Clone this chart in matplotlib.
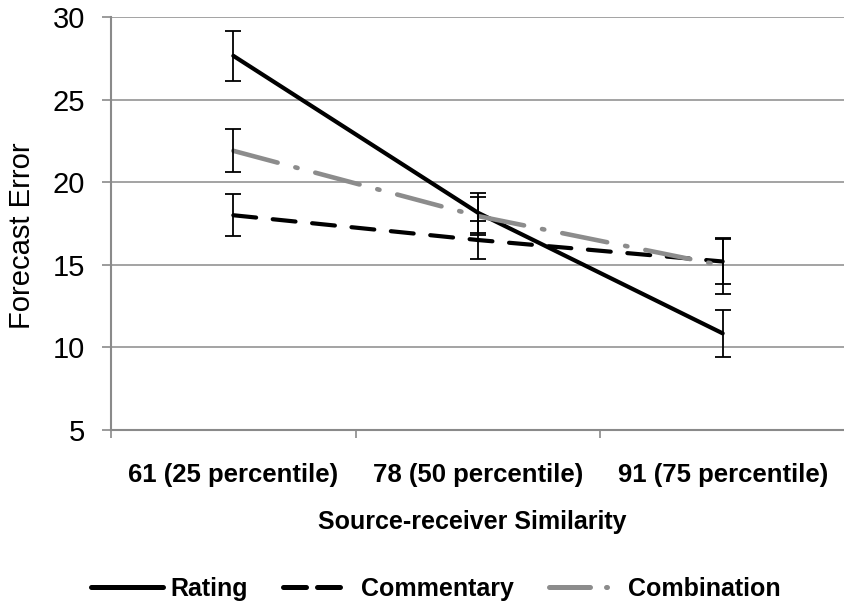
import matplotlib
matplotlib.use("Agg")
import matplotlib.pyplot as plt
import numpy as np

categories = ["61 (25 percentile)", "78 (50 percentile)", "91 (75 percentile)"]
rating = [27.65, 18.15, 10.85]
rating_err = [1.5, 1.2, 1.43]
commentary = [18.0, 16.5, 15.2]
commentary_err = [1.28, 1.15, 1.35]
combination = [21.9, 17.95, 14.95]
combination_err = [1.3, 1.15, 1.7]
y_ticks = [5, 10, 15, 20, 25, 30]

plt.rcParams['font.family'] = ['Liberation Sans', 'DejaVu Sans']

fig = plt.figure(figsize=(8.45, 6.11), dpi=100)
ax = fig.add_axes([111/845, 1 - 430/611, 734/845, 413/611])

x = np.arange(len(categories))
grid_c = '#8a8a8a'
gray = '#8c8c8c'
lw = 3.0

for yv in y_ticks[1:]:
    ax.axhline(yv, color=grid_c, lw=1.1, zorder=0)

l1, = ax.plot(x, rating, color='black', lw=lw, solid_capstyle='round', zorder=3, label='Rating')
l2, = ax.plot(x, commentary, color='black', lw=lw, linestyle=(0, (5.5, 4.0)),
              dash_capstyle='round', zorder=3, label='Commentary')
l3, = ax.plot(x, combination, color=gray, lw=lw + 0.3, linestyle=(0, (10, 4, 0.5, 4)),
              dash_capstyle='round', zorder=3, label='Combination')

for vals, errs in [(rating, rating_err), (commentary, commentary_err), (combination, combination_err)]:
    ax.errorbar(x, vals, yerr=errs, fmt='none', ecolor='black', elinewidth=1.3,
                capsize=6, capthick=1.3, zorder=4)

ax.set_xlim(-0.5, 2.445)
ax.set_ylim(5, 30)
ax.set_yticks(y_ticks)
ax.set_yticklabels([str(v) for v in y_ticks], fontsize=21)
ax.tick_params(axis='y', length=6.5, width=1.2, color=grid_c, pad=12)

ax.set_xticks([-0.5, 0.5, 1.5, 2.5])
ax.set_xticklabels([])
ax.set_xticks(x, minor=True)
ax.set_xticklabels(categories, minor=True, fontsize=18.5, fontweight='bold')
ax.tick_params(axis='x', which='major', length=6, width=1.2, color=grid_c)
ax.tick_params(axis='x', which='minor', length=0, pad=24)

for s in ['top', 'right']:
    ax.spines[s].set_visible(False)
for s in ['left', 'bottom']:
    ax.spines[s].set_color(grid_c)
    ax.spines[s].set_linewidth(1.5)

fig.text(22/845, 1 - 236/611, 'Forecast Error', rotation=90, ha='center', va='center', fontsize=21)
fig.text(472/845, 1 - 522/611, 'Source-receiver Similarity', ha='center', va='center',
         fontsize=18, fontweight='bold')

leg = fig.legend(handles=[l1, l2, l3], loc='center', bbox_to_anchor=(436/845, 1 - 589/611),
                 ncol=3, frameon=False, handlelength=2.85, handletextpad=0.3,
                 columnspacing=1.4, prop={'size': 18, 'weight': 'bold'})
hs = leg.legend_handles
for h in hs:
    h.set_linewidth(3.6)
hs[1].set_linestyle((0, (4.6, 2.2, 4.6, 10)))
hs[2].set_linestyle((0, (8.2, 3.2, 0.2, 10)))

fig.savefig('out.png', dpi=100)
